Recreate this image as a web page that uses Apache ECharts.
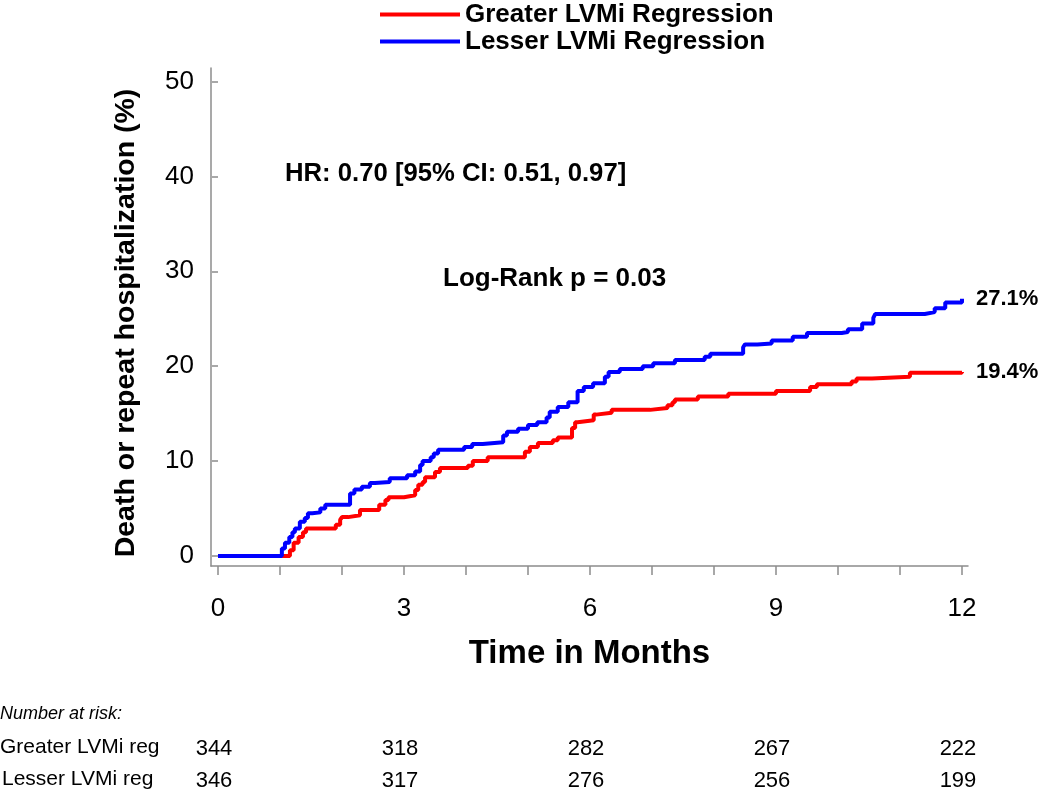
<!DOCTYPE html>
<html>
<head>
<meta charset="utf-8">
<script src="https://cdn.jsdelivr.net/npm/echarts@6/dist/echarts.min.js"></script>
<style>
  html, body { margin: 0; padding: 0; background: #fff; }
  #chart { width: 1050px; height: 793px; }
</style>
</head>
<body>
<div id="chart"></div>
<script>
// step points: time in months, cumulative event rate in %
const greaterTimes = [0, 1.16, 1.22, 1.3, 1.37, 1.42, 1.9, 1.97, 2.0, 2.1, 2.29, 2.6, 2.7, 2.75, 3.0, 3.18, 3.23, 3.3, 3.34, 3.5, 3.58, 4.03, 4.11, 4.35, 4.95, 5.03, 5.16, 5.4, 5.48, 5.71, 5.76, 5.8, 6.06, 6.1, 6.35, 6.97, 7.25, 7.33, 7.37, 7.74, 8.23, 9.0, 9.55, 9.66, 10.22, 10.3, 10.55, 11.16, 12.0]
const greaterValues = [0, 0.6, 1.4, 2.0, 2.5, 2.9, 3.3, 3.8, 4.1, 4.3, 4.85, 5.4, 5.9, 6.2, 6.4, 6.95, 7.5, 7.8, 8.3, 8.85, 9.27, 9.5, 10.0, 10.4, 11.0, 11.5, 11.9, 12.2, 12.5, 13.5, 14.1, 14.3, 14.9, 15.1, 15.4, 15.6, 15.9, 16.2, 16.5, 16.8, 17.1, 17.4, 17.8, 18.1, 18.4, 18.7, 18.9, 19.3, 19.4]
const lesserTimes = [0, 1.03, 1.08, 1.15, 1.2, 1.24, 1.32, 1.4, 1.45, 1.52, 1.65, 1.73, 2.13, 2.2, 2.32, 2.45, 2.53, 2.77, 3.05, 3.18, 3.26, 3.3, 3.43, 3.48, 3.55, 3.97, 4.1, 4.27, 4.6, 4.66, 4.84, 5.0, 5.15, 5.3, 5.35, 5.48, 5.65, 5.8, 5.9, 6.05, 6.24, 6.3, 6.48, 6.85, 7.02, 7.37, 7.85, 7.94, 8.47, 8.5, 8.7, 8.93, 9.27, 9.5, 10.06, 10.16, 10.39, 10.57, 10.6, 11.4, 11.56, 11.73, 12.0]
const lesserValues = [0, 0.8, 1.4, 2.0, 2.5, 2.9, 3.6, 4.0, 4.5, 4.6, 5.0, 5.4, 6.6, 7.0, 7.3, 7.7, 7.8, 8.2, 8.5, 8.9, 9.6, 10.0, 10.4, 10.8, 11.2, 11.5, 11.8, 12.0, 12.7, 13.1, 13.4, 13.8, 14.1, 14.6, 15.2, 15.7, 16.2, 17.4, 17.8, 18.2, 18.9, 19.4, 19.7, 20.0, 20.3, 20.65, 21.0, 21.3, 22.0, 22.3, 22.4, 22.7, 23.1, 23.5, 23.6, 23.9, 24.5, 25.1, 25.5, 25.7, 26.1, 26.7, 27.1]

const seriesNames = ['Greater LVMi Regression', 'Lesser LVMi Regression']
const endLabels = ['19.4%', '27.1%']
const xTicks = [0, 1, 2, 3, 4, 5, 6, 7, 8, 9, 10, 11, 12]
const xLabels = [0, 3, 6, 9, 12]
const yTicks = [0, 10, 20, 30, 40, 50]

const riskTimes = [0, 3, 6, 9, 12]
const riskRows = ['Greater LVMi reg', 'Lesser LVMi reg']
const riskGreater = [344, 318, 282, 267, 222]
const riskLesser = [346, 317, 276, 256, 199]

const hrText = 'HR: 0.70 [95% CI: 0.51, 0.97]'
const pText = 'Log-Rank p = 0.03'

const FONT = "'Liberation Sans', Arial, sans-serif"
const AXIS_GREY = '#8c8c8c'

const toPairs = (ts, vs) => ts.map((t, i) => [t, vs[i]])

const chart = echarts.init(document.getElementById('chart'))

const makeSeries = (name, data, color, label) => ({
  name,
  type: 'line',
  step: 'end',
  data,
  symbol: 'none',
  lineStyle: { color, width: 4 },
  itemStyle: { color },
  animation: false,
  endLabel: {
    show: true,
    formatter: label,
    distance: 14,
    color: '#000',
    fontFamily: FONT,
    fontWeight: 'bold',
    fontSize: 22
  }
})

chart.setOption({
  backgroundColor: '#fff',
  textStyle: { fontFamily: FONT },
  legend: {
    data: seriesNames,
    orient: 'vertical',
    left: 375,
    top: -4,
    icon: 'rect',
    itemWidth: 80,
    itemHeight: 4,
    itemGap: 0,
    textStyle: { fontFamily: FONT, fontWeight: 'bold', fontSize: 26, color: '#000', lineHeight: 27 }
  },
  grid: { left: 211, right: 82, top: 68, bottom: 227 },
  xAxis: {
    type: 'value',
    min: -0.113,
    max: 12.097,
    splitLine: { show: false },
    axisLine: { show: true, onZero: false, lineStyle: { color: AXIS_GREY, width: 1.5 } },
    axisTick: { show: true, customValues: xTicks, length: 9, lineStyle: { color: AXIS_GREY, width: 1.5 } },
    axisLabel: { customValues: xLabels, fontSize: 26, color: '#000', margin: 30, fontFamily: FONT },
    name: 'Time in Months',
    nameLocation: 'middle',
    nameGap: 71,
    nameTextStyle: { fontSize: 33, fontWeight: 'bold', color: '#000', fontFamily: FONT }
  },
  yAxis: [{
    type: 'value',
    min: -1.05,
    max: 51.42,
    splitLine: { show: false },
    axisLine: { show: true, onZero: false, lineStyle: { color: AXIS_GREY, width: 1.5 } },
    axisTick: { show: false },
    axisLabel: { show: false },
    name: 'Death or repeat hospitalization (%)',
    nameLocation: 'middle',
    nameGap: 70,
    nameTextStyle: { fontSize: 28.5, fontWeight: 'bold', color: '#000', fontFamily: FONT, padding: [0, 12, 0, 0] }
  }, {
    type: 'value',
    position: 'left',
    offset: 3,
    min: -1.05,
    max: 51.42,
    splitLine: { show: false },
    axisLine: { show: false },
    axisTick: { show: true, customValues: yTicks, length: 6, lineStyle: { color: AXIS_GREY, width: 1.5 } },
    axisLabel: { customValues: yTicks, fontSize: 26, color: '#000', margin: 14, fontFamily: FONT }
  }],
  series: [
    makeSeries(seriesNames[0], toPairs(greaterTimes, greaterValues), '#ff0000', endLabels[0]),
    makeSeries(seriesNames[1], toPairs(lesserTimes, lesserValues), '#0000ff', endLabels[1])
  ]
})

// annotations and the number-at-risk table
const bold = { fontFamily: FONT, fontWeight: 'bold', fontSize: 26, fill: '#000' }
const plain = { fontFamily: FONT, fontSize: 21, fill: '#000' }
const graphics = [
  { type: 'text', left: 285, top: 161, style: Object.assign({ text: hrText }, bold, { fontSize: 25.7 }) },
  { type: 'text', left: 443, top: 266, style: Object.assign({ text: pText }, bold) },
  { type: 'text', left: 0, top: 705, style: Object.assign({ text: 'Number at risk:', fontStyle: 'italic' }, plain, { fontSize: 18 }) },
  { type: 'text', left: 0, top: 737, style: Object.assign({ text: riskRows[0] }, plain) },
  { type: 'text', left: 2, top: 769, style: Object.assign({ text: riskRows[1] }, plain) }
]
riskTimes.forEach((t, i) => {
  const x = chart.convertToPixel({ xAxisIndex: 0 }, t) - 4
  graphics.push({ type: 'text', x, y: 749, style: Object.assign({ text: String(riskGreater[i]), align: 'center', verticalAlign: 'middle' }, plain, { fontSize: 22 }) })
  graphics.push({ type: 'text', x, y: 781, style: Object.assign({ text: String(riskLesser[i]), align: 'center', verticalAlign: 'middle' }, plain, { fontSize: 22 }) })
})
chart.setOption({ graphic: graphics })

window.addEventListener('resize', () => {
  chart.resize()
})
</script>
</body>
</html>
